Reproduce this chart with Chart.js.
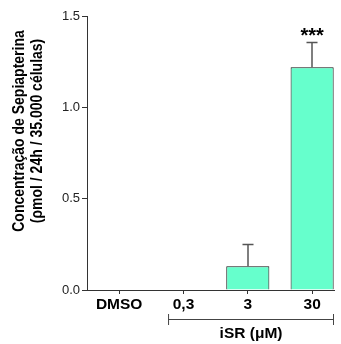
<!DOCTYPE html>
<html>
<head>
<meta charset="utf-8">
<script src="https://cdn.jsdelivr.net/npm/chart.js@4.4.1/dist/chart.umd.min.js"></script>
<style>
html,body{margin:0;padding:0;background:#fff;overflow:hidden;}
canvas{display:block;}
</style>
</head>
<body>
<canvas id="c" width="341" height="344"></canvas>
<script>
const categories = ["DMSO", "0,3", "3", "30"];
const values = [0, 0, 0.13, 1.22];
const errors = [0, 0, 0.12, 0.14];
const significance = ["", "", "", "***"];
const yTicks = [0, 0.5, 1.0, 1.5];
const yTitle = ["Concentração de Sepiapterina", "(ρmol / 24h / 35.000 células)"];
const groupLabel = "iSR (μM)";

const FONT = "'Liberation Sans', Arial, sans-serif";

const extras = {
  id: 'extras',
  afterDatasetsDraw(chart) {
    const ctx = chart.ctx;
    const xs = chart.scales.x, ys = chart.scales.y;
    ctx.save();
    // error bars
    ctx.strokeStyle = '#555';
    ctx.lineWidth = 1.5;
    values.forEach((v, i) => {
      if (!errors[i]) return;
      const x = Math.round(xs.getPixelForValue(i));
      const y0 = ys.getPixelForValue(v);
      const y1 = Math.round(ys.getPixelForValue(v + errors[i])) + 0.5;
      ctx.beginPath();
      ctx.moveTo(x, y0); ctx.lineTo(x, y1);
      ctx.moveTo(x - 5.5, y1); ctx.lineTo(x + 5.5, y1);
      ctx.stroke();
    });
    // significance
    ctx.fillStyle = '#000';
    ctx.font = "bold 20px " + FONT;
    ctx.textAlign = 'center';
    ctx.textBaseline = 'alphabetic';
    significance.forEach((s, i) => {
      if (!s) return;
      const x = xs.getPixelForValue(i);
      const y = ys.getPixelForValue(values[i] + errors[i]);
      ctx.fillText(s, x, y);
    });
    // y title
    ctx.save();
    ctx.translate(19.5, 131);
    ctx.rotate(-Math.PI / 2);
    ctx.scale(1, 1.15);
    ctx.font = "bold 14px " + FONT;
    ctx.textAlign = 'center';
    ctx.textBaseline = 'middle';
    ctx.fillText(yTitle[0], 0, 0);
    ctx.fillText(yTitle[1], 0, 15.5);
    ctx.restore();
    // group bracket
    const bx0 = xs.getPixelForValue(0.76), bx1 = xs.right;
    const by = 319;
    ctx.strokeStyle = '#444';
    ctx.lineWidth = 1;
    ctx.beginPath();
    ctx.moveTo(bx0, by + 0.5); ctx.lineTo(bx1, by + 0.5);
    ctx.moveTo(bx0 + 0.5, by - 5); ctx.lineTo(bx0 + 0.5, by + 6);
    ctx.moveTo(bx1 - 0.5, by - 5); ctx.lineTo(bx1 - 0.5, by + 6);
    ctx.stroke();
    ctx.fillStyle = '#000';
    ctx.font = "bold 15.5px " + FONT;
    ctx.textAlign = 'center';
    ctx.textBaseline = 'alphabetic';
    ctx.fillText(groupLabel, (bx0 + bx1) / 2, 338);
    ctx.restore();
  }
};

new Chart(document.getElementById('c'), {
  type: 'bar',
  data: {
    datasets: [{
      data: values.map((v, i) => ({x: i, y: v})),
      backgroundColor: '#66FFCC',
      borderColor: '#111',
      borderWidth: 1,
      borderSkipped: 'bottom',
      barPercentage: 0.67,
      categoryPercentage: 1
    }]
  },
  options: {
    responsive: false,
    devicePixelRatio: 1,
    animation: false,
    layout: {padding: {left: 0, right: 7, top: 16, bottom: 0}},
    plugins: {legend: {display: false}, tooltip: {enabled: false}},
    scales: {
      x: {
        type: 'linear',
        offset: false,
        min: -0.5,
        max: 3.34,
        afterBuildTicks: s => { s.ticks = categories.map((c, i) => ({value: i})); },
        afterFit: s => { s.height = 54; },
        ticks: {
          callback: v => categories[v],
          font: {family: FONT, size: 15.5, weight: 'bold'},
          color: '#000',
          padding: 1,
          maxRotation: 0,
          autoSkip: false
        },
        grid: {display: true, offset: false, drawOnChartArea: false, drawTicks: true, tickLength: 4, color: '#333'},
        border: {display: true, color: '#333', width: 1}
      },
      y: {
        min: 0,
        max: 1.5,
        afterBuildTicks: s => { s.ticks = yTicks.map(v => ({value: v})); },
        afterFit: s => { s.width = 87; },
        ticks: {
          callback: v => v.toFixed(1),
          font: {family: "'Liberation Sans Narrow', " + FONT, size: 13},
          color: '#222',
          padding: 2
        },
        grid: {display: true, drawOnChartArea: false, drawTicks: true, tickLength: 5, color: '#333'},
        border: {display: true, color: '#333', width: 1}
      }
    }
  },
  plugins: [extras]
});
</script>
</body>
</html>
